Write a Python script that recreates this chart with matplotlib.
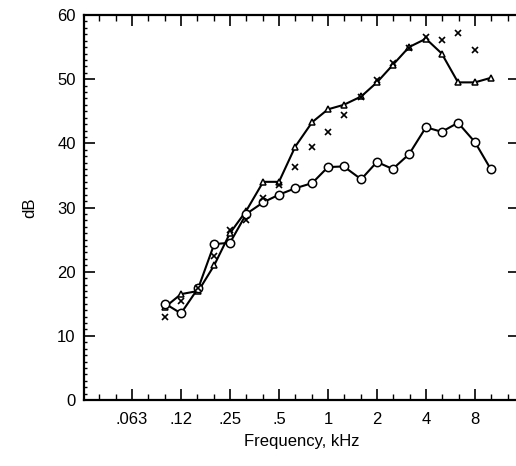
import numpy as np
import matplotlib
matplotlib.use("Agg")
import matplotlib.pyplot as plt
from matplotlib.ticker import FixedLocator, NullFormatter, MultipleLocator

plt.rcParams['font.family'] = ['Liberation Sans', 'DejaVu Sans']

# third-octave band centres, kHz
freqs = [0.1, 0.125, 0.16, 0.2, 0.25, 0.315, 0.4, 0.5, 0.63, 0.8, 1.0,
         1.25, 1.6, 2.0, 2.5, 3.15, 4.0, 5.0, 6.3, 8.0, 10.0]

tri_db = [14.5, 16.5, 17.0, 21.0, 26.0, 29.5, 34.0, 34.0, 39.5, 43.3, 45.3,
          46.0, 47.3, 49.5, 52.2, 55.0, 56.3, 54.0, 49.5, 49.5, 50.2]

circ_db = [15.0, 13.5, 17.5, 24.3, 24.5, 29.0, 30.8, 32.0, 33.0, 33.8, 36.3,
           36.4, 34.4, 37.1, 36.0, 38.3, 42.5, 41.8, 43.2, 40.2, 36.0]

x_freqs = freqs[:-1]
x_db = [13.0, 15.5, 17.5, 22.5, 26.5, 28.0, 31.5, 33.5, 36.3, 39.5, 41.8,
        44.4, 47.2, 49.9, 52.5, 54.8, 56.6, 56.1, 57.2, 54.5]

tick_freqs = [0.0625, 0.125, 0.25, 0.5, 1, 2, 4, 8]
tick_labels = ['.063', '.12', '.25', '.5', '1', '2', '4', '8']

fig = plt.figure(figsize=(5.16, 4.66), dpi=100)
ax = fig.add_axes([84 / 516, 66 / 466, 435 / 516, 385 / 466])

ax.plot(freqs, tri_db, color='black', lw=1.5, marker='^', ms=5,
        mfc='white', mec='black', mew=1.1)
ax.plot(freqs, circ_db, color='black', lw=1.5, marker='o', ms=6,
        mfc='white', mec='black', mew=1.1)
ax.plot(x_freqs, x_db, ls='none', marker='x', ms=5, color='black', mew=1.2)

ax.set_xscale('log', base=2)
ax.set_xlim(2 ** -4.98, 2 ** 3.9)
ax.set_ylim(0, 60)

ax.xaxis.set_major_locator(FixedLocator(tick_freqs))
ax.set_xticklabels(tick_labels)
ax.xaxis.set_minor_locator(FixedLocator([2 ** (n / 3) for n in range(-15, 12)]))
ax.xaxis.set_minor_formatter(NullFormatter())
ax.yaxis.set_major_locator(MultipleLocator(10))
ax.yaxis.set_minor_locator(MultipleLocator(1))

ax.tick_params(which='major', direction='in', length=8, width=1.2,
               top=True, right=True, labelsize=12, pad=6)
ax.tick_params(axis='x', which='major', pad=9)
ax.tick_params(which='minor', direction='in', length=4, width=1,
               top=True, right=True)
ax.tick_params(axis='y', which='minor', length=2.5)

for s in ax.spines.values():
    s.set_linewidth(1.6)

ax.set_xlabel('Frequency, kHz', fontsize=12, labelpad=5)
ax.set_ylabel('dB', fontsize=12, labelpad=14)

fig.savefig('out.png', dpi=100)
